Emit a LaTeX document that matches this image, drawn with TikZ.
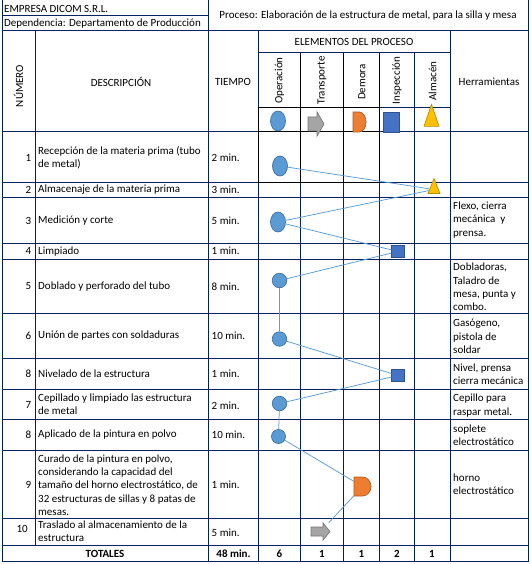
\documentclass[tikz,border=0pt]{standalone}
\usepackage{fontspec}
\setmainfont{Carlito}
\usetikzlibrary{shapes.geometric}
\definecolor{navy}{RGB}{0,32,96}
\definecolor{opfill}{RGB}{91,155,213}
\definecolor{opdraw}{RGB}{65,113,156}
\definecolor{trfill}{RGB}{165,165,165}
\definecolor{trdraw}{RGB}{120,120,120}
\definecolor{defill}{RGB}{237,125,49}
\definecolor{dedraw}{RGB}{174,90,33}
\definecolor{infill}{RGB}{68,114,196}
\definecolor{indraw}{RGB}{47,82,143}
\definecolor{alfill}{RGB}{255,192,0}
\definecolor{aldraw}{RGB}{188,140,0}
\definecolor{connc}{RGB}{91,155,213}
\begin{document}
\begin{tikzpicture}[x=1pt,y=-1pt,
  grid/.style={draw=navy,line width=1pt},
  blk/.style={draw=black,line width=1pt},
  txt/.style={font=\fontsize{11}{13.3}\selectfont,inner sep=0pt,align=left,text=black},
  btxt/.style={font=\fontsize{11}{13.3}\selectfont\bfseries,inner sep=0pt,align=center,text=black},
  opsym/.style={ellipse,fill=opfill,draw=opdraw,line width=0.7pt,inner sep=0pt},
  insym/.style={rectangle,fill=infill,draw=indraw,line width=0.7pt,inner sep=0pt},
  alsym/.style={isosceles triangle,isosceles triangle apex angle=44,shape border rotate=90,
    isosceles triangle stretches,fill=alfill,draw=aldraw,line width=0.7pt,inner sep=0pt},
  holder/.style={rectangle,draw=none,inner sep=0pt},
  trsym/.style={fill=trfill,draw=trdraw,line width=0.7pt},
  desym/.style={fill=defill,draw=dedraw,line width=0.7pt},
  conn/.style={draw=connc,line width=0.75pt}
]
\useasboundingbox (0,0) rectangle (531,564);

% ---------- grid ----------
\draw[grid] (2,15.5) -- (208.5,15.5);
\draw[grid] (2,30.5) -- (528,30.5);
\draw[grid] (258,53) -- (450,53);
\draw[grid] (258,108) -- (450,108);
\foreach \yy in {132,182.3,197.7,243.3,259,313.3,358.3,389,419.3,450,518.3,545.7,561.7}
  \draw[grid] (2,\yy) -- (528,\yy);
\draw[grid] (2,0) -- (2,561.7);
\draw[grid] (528,0) -- (528,561.7);
\draw[grid] (208.5,0) -- (208.5,561.7);
\draw[grid] (35,30.5) -- (35,545.7);
\draw[grid] (258,30.5) -- (258,561.7);
\foreach \xx in {300.5,343.3,379.5,414.5}
  \draw[grid] (\xx,53) -- (\xx,561.7);
\draw[grid] (450,30.5) -- (450,561.7);
% black segments
\foreach \xx in {300.5,343.3,379.5}
  \draw[blk] (\xx,53) -- (\xx,182.3);
\draw[blk] (258,108) -- (258,182.3);
\foreach \yy in {108,132,182.3}
  \draw[blk] (258,\yy) -- (379.5,\yy);

% ---------- header texts ----------
\node[txt,anchor=west] (emp) at (4,8.5) {EMPRESA DICOM S.R.L.};
\node[txt,anchor=west] (dep) at (4,23.5) {Dependencia: Departamento de Producción};
\node[txt] (proc) at (368,16) {Proceso: Elaboración de la estructura de metal, para la silla y mesa};
\node[txt] (elem) at (354,42) {ELEMENTOS DEL PROCESO};
\node[txt,rotate=90] (hnum) at (18.5,86) {NÚMERO};
\node[txt] (hdesc) at (121,82) {DESCRIPCIÓN};
\node[txt] (htiem) at (233,82) {TIEMPO};
\node[txt] (hherr) at (489,82) {Herramientas};
\node[txt,rotate=90] (lop) at (279.5,80.5) {Operación};
\node[txt,rotate=90] (ltr) at (322,80.5) {Transporte};
\node[txt,rotate=90] (lde) at (362,82) {Demora};
\node[txt,rotate=90] (lin) at (397,80.5) {Inspección};
\node[txt,rotate=90] (lal) at (432.5,81) {Almacén};

% ---------- header symbols ----------
\node[opsym,minimum width=15,minimum height=20] (oph) at (278,121) {};
\node[holder,minimum width=16,minimum height=24] (trh) at (316,124) {};
\begin{scope}[shift={(trh)}]
  \draw[trsym] (-8,-7) -- (1,-7) -- (1,-12) -- (8,0) -- (1,12) -- (1,7) -- (-8,7) -- cycle;
\end{scope}
\node[holder,minimum width=13,minimum height=20] (deh) at (359.5,122) {};
\begin{scope}[shift={(deh)}]
  \draw[desym] (-6.5,-10) -- (0,-10) arc[start angle=-90,end angle=90,x radius=6.5,y radius=10] -- (-6.5,10) -- cycle;
\end{scope}
\node[insym,minimum width=16,minimum height=20] (inh) at (391,122) {};
\node[alsym,minimum width=15,minimum height=22] (alh) at (431.5,121) {};

% ---------- row symbols ----------
\node[opsym,minimum width=15,minimum height=20] (op1) at (280,166) {};
\node[alsym,minimum width=12,minimum height=15] (al2) at (434,189.5) {};
\node[opsym,minimum width=15,minimum height=20] (op3) at (278,222) {};
\node[insym,minimum size=12.5] (in4) at (398,251.5) {};
\node[opsym,minimum size=14.5] (op5) at (279.5,280.5) {};
\node[opsym,minimum size=14.5] (op6) at (279.5,339) {};
\node[insym,minimum size=12.5] (in8) at (398,375.5) {};
\node[opsym,minimum size=14.5] (op7) at (279.5,403.5) {};
\node[opsym,minimum size=14] (op8) at (278.5,436.5) {};
\node[holder,minimum width=17,minimum height=19] (de9) at (362.5,486.5) {};
\begin{scope}[shift={(de9)}]
  \draw[desym] (-8.5,-9.5) -- (0,-9.5) arc[start angle=-90,end angle=90,x radius=8.5,y radius=9.5] -- (-8.5,9.5) -- cycle;
\end{scope}
\node[holder,minimum width=19,minimum height=17] (tr10) at (320.5,531.5) {};
\begin{scope}[shift={(tr10)}]
  \draw[trsym] (-9.5,-4.5) -- (2.5,-4.5) -- (2.5,-8.5) -- (9.5,0) -- (2.5,8.5) -- (2.5,4.5) -- (-9.5,4.5) -- cycle;
\end{scope}

% ---------- connectors ----------
\draw[conn] (op1) -- (al2);
\draw[conn] (al2) -- (op3);
\draw[conn] (op3) -- (in4);
\draw[conn] (in4) -- (op5);
\draw[conn] (op5) -- (op6);
\draw[conn] (op6) -- (in8);
\draw[conn] (in8) -- (op7);
\draw[conn] (op7) -- (op8);
\draw[conn] (op8) -- (de9);
\draw[conn] (de9) -- (tr10);

% ---------- numbers ----------
\node[txt,anchor=east] (n1) at (31.5,157.5) {1};
\node[txt,anchor=east] (n2) at (31.5,190) {2};
\node[txt,anchor=east] (n3) at (31.5,220.5) {3};
\node[txt,anchor=east] (n4) at (31.5,251.2) {4};
\node[txt,anchor=east] (n5) at (31.5,286.2) {5};
\node[txt,anchor=east] (n6) at (31.5,335.8) {6};
\node[txt,anchor=east] (n8) at (31.5,373.7) {8};
\node[txt,anchor=east] (n7) at (31.5,404.5) {7};
\node[txt,anchor=east] (n8b) at (31.5,434.7) {8};
\node[txt,anchor=east] (n9) at (31.5,484.5) {9};
\node[txt,anchor=east] (n10) at (28,529) {10};

% ---------- descriptions ----------
\node[txt,anchor=west] (d1) at (38,157.5) {Recepción de la materia prima (tubo\\de metal)};
\node[txt,anchor=west] (d2) at (38,190) {Almacenaje de la materia prima};
\node[txt,anchor=west] (d3) at (38,220.5) {Medición y corte};
\node[txt,anchor=west] (d4) at (38,251.2) {Limpiado};
\node[txt,anchor=west] (d5) at (38,286.2) {Doblado y perforado del tubo};
\node[txt,anchor=west] (d6) at (38,335.8) {Unión de partes con soldaduras};
\node[txt,anchor=west] (d8) at (38,373.7) {Nivelado de la estructura};
\node[txt,anchor=west] (d7) at (38,404.5) {Cepillado y limpiado las estructura\\de metal};
\node[txt,anchor=west] (d8b) at (38,434.7) {Aplicado de la pintura en polvo};
\node[txt,anchor=west] (d9) at (38,485) {Curado de la pintura en polvo,\\considerando la capacidad del\\tamaño del horno electrostático, de\\32 estructuras de sillas y 8 patas de\\mesas.};
\node[txt,anchor=west] (d10) at (38,531.5) {Traslado al almacenamiento de la\\estructura};

% ---------- times ----------
\node[txt,anchor=west] (t1) at (211.5,158) {2 min.};
\node[txt,anchor=west] (t2) at (211.5,190) {3 min.};
\node[txt,anchor=west] (t3) at (211.5,221) {5 min.};
\node[txt,anchor=west] (t4) at (211.5,251.2) {1 min.};
\node[txt,anchor=west] (t5) at (211.5,286.5) {8 min.};
\node[txt,anchor=west] (t6) at (211.5,336) {10 min.};
\node[txt,anchor=west] (t8) at (211.5,374) {1 min.};
\node[txt,anchor=west] (t7) at (211.5,406) {2 min.};
\node[txt,anchor=west] (t8b) at (211.5,435) {10 min.};
\node[txt,anchor=west] (t9) at (211.5,485) {1 min.};
\node[txt,anchor=west] (t10) at (211.5,533) {5 min.};

% ---------- tools ----------
\node[txt,anchor=west] (h3) at (453,220) {Flexo, cierra\\mecánica\ \ y\\prensa.};
\node[txt,anchor=west] (h5) at (453,287) {Dobladoras,\\Taladro de\\mesa, punta y\\combo.};
\node[txt,anchor=west] (h6) at (453,336.5) {Gasógeno,\\pistola de\\soldar};
\node[txt,anchor=west] (h8) at (453,374) {Nivel, prensa\\cierra mecánica};
\node[txt,anchor=west] (h7) at (453,405.5) {Cepillo para\\raspar metal.};
\node[txt,anchor=west] (h8b) at (453,435.5) {soplete\\electrostático};
\node[txt,anchor=west] (h9) at (453,484.5) {horno\\electrostático};

% ---------- totals ----------
\node[btxt] (tot) at (105,554) {TOTALES};
\node[btxt] (ttime) at (233.5,554) {48 min.};
\node[btxt] (top) at (279.5,554) {6};
\node[btxt] (ttr) at (322,554) {1};
\node[btxt] (tde) at (361.5,554) {1};
\node[btxt] (tin) at (397,554) {2};
\node[btxt] (tal) at (432,554) {1};
\end{tikzpicture}
\end{document}
